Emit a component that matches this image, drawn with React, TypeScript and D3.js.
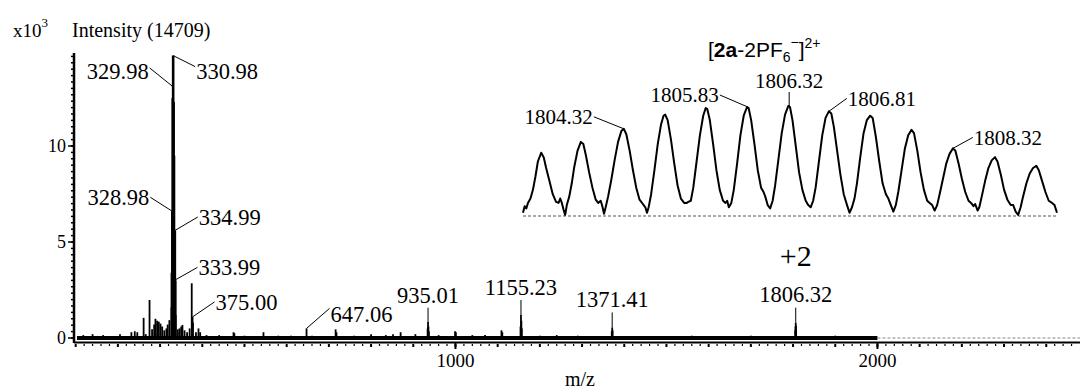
import * as d3 from "d3";

// main spectrum sticks: [m/z, intensity x10^3]
const mainPeaks: [number, number][] = [
  [118, 0.15], [140, 0.2], [165, 0.15], [205, 0.2], [232, 0.3], [240, 0.35], [246, 0.3],
  [261, 1.05], [266, 0.2], [275, 1.98], [281, 0.45], [286, 0.7], [289, 1.0], [293, 0.9],
  [297, 0.85], [301, 0.75], [305, 0.6], [310, 0.4], [315, 0.5], [318, 0.7], [322, 0.93],
  [326.98, 1.6], [327.98, 3.4], [328.98, 6.6], [329.98, 12.5], [330.98, 14.709], [331.98, 12.3],
  [332.98, 9.5], [333.99, 4.5], [334.99, 5.6], [335.99, 3.0], [336.99, 1.2],
  [342, 0.45], [346, 0.5], [350, 0.6], [353, 0.68], [358, 0.4], [364, 0.3], [370, 0.5],
  [375.0, 2.85], [377.0, 1.1], [378.0, 0.8], [385, 0.3], [391, 0.5], [395, 0.3], [410, 0.15],
  [440, 0.15], [474, 0.3], [476, 0.25], [500, 0.12], [545, 0.3], [580, 0.12], [610, 0.12],
  [647.06, 0.5], [660, 0.12], [716, 0.45], [718, 0.3], [760, 0.12], [800, 0.2], [835, 0.15],
  [852, 0.2], [870, 0.3], [905, 0.2], [934.0, 0.5], [935.01, 0.85], [936.0, 0.6], [937.0, 0.35],
  [960, 0.15], [999, 0.35], [1001, 0.3], [1040, 0.15], [1070, 0.15], [1109, 0.4], [1111, 0.3],
  [1154.2, 0.6], [1155.23, 1.2], [1156.2, 0.9], [1157.2, 0.5], [1200, 0.12], [1240, 0.15],
  [1290, 0.12], [1330, 0.1], [1370.4, 0.35], [1371.41, 0.55], [1372.4, 0.4], [1420, 0.1],
  [1500, 0.1], [1560, 0.12], [1640, 0.1], [1700, 0.12], [1760, 0.1], [1805.3, 0.4],
  [1805.8, 0.6], [1806.32, 0.8], [1806.8, 0.65], [1807.3, 0.4], [1850, 0.1], [1900, 0.12],
  [1960, 0.1],
];
const baselineSpan = [103, 2000];

// zoomed isotope envelope: [m/z, relative intensity]
const insetTrace: [number, number][] = [
  [1803.1, 3], [1803.12, 9], [1803.14, 7], [1803.16, 12], [1803.19, 16], [1803.22, 24],
  [1803.25, 36], [1803.28, 50], [1803.32, 58], [1803.35, 54], [1803.38, 44], [1803.42, 32],
  [1803.46, 20], [1803.5, 13], [1803.53, 12], [1803.55, 16], [1803.57, 12], [1803.59, 6],
  [1803.61, 1], [1803.63, 10], [1803.66, 18], [1803.69, 30], [1803.72, 45], [1803.76, 60],
  [1803.8, 68], [1803.83, 66], [1803.86, 56], [1803.9, 40], [1803.94, 26], [1803.98, 15],
  [1804.01, 12], [1804.04, 14], [1804.06, 9], [1804.08, 2], [1804.1, 8], [1804.13, 18],
  [1804.17, 34], [1804.21, 52], [1804.25, 68], [1804.29, 78], [1804.32, 80], [1804.35, 75],
  [1804.39, 60], [1804.43, 42], [1804.47, 26], [1804.51, 15], [1804.55, 11], [1804.58, 8],
  [1804.6, 3], [1804.62, 8], [1804.65, 20], [1804.69, 42], [1804.73, 66], [1804.77, 84],
  [1804.8, 92], [1804.82, 93], [1804.85, 88], [1804.89, 70], [1804.93, 48], [1804.97, 28],
  [1805.01, 16], [1805.05, 12], [1805.08, 12], [1805.1, 13], [1805.13, 14], [1805.16, 26],
  [1805.2, 50], [1805.24, 74], [1805.28, 92], [1805.31, 99], [1805.33, 98], [1805.36, 88],
  [1805.4, 66], [1805.44, 42], [1805.48, 24], [1805.52, 14], [1805.55, 12], [1805.57, 14],
  [1805.59, 8], [1805.62, 12], [1805.65, 24], [1805.69, 48], [1805.73, 74], [1805.77, 92],
  [1805.81, 100], [1805.83, 99], [1805.86, 88], [1805.9, 66], [1805.94, 42], [1805.98, 26],
  [1806.01, 22], [1806.03, 18], [1806.06, 10], [1806.09, 7], [1806.12, 14], [1806.15, 28],
  [1806.19, 52], [1806.23, 76], [1806.27, 93], [1806.31, 101], [1806.33, 100], [1806.36, 88],
  [1806.4, 64], [1806.44, 40], [1806.48, 24], [1806.52, 14], [1806.55, 10], [1806.58, 8],
  [1806.61, 14], [1806.64, 26], [1806.68, 50], [1806.72, 74], [1806.76, 90], [1806.8, 96],
  [1806.83, 94], [1806.86, 82], [1806.9, 60], [1806.94, 38], [1806.98, 20], [1807.02, 10],
  [1807.05, 3], [1807.08, 8], [1807.11, 16], [1807.14, 30], [1807.18, 54], [1807.22, 76],
  [1807.26, 88], [1807.3, 92], [1807.33, 90], [1807.37, 72], [1807.41, 50], [1807.45, 30],
  [1807.49, 20], [1807.52, 16], [1807.55, 10], [1807.58, 4], [1807.61, 10], [1807.64, 22],
  [1807.68, 42], [1807.72, 62], [1807.76, 74], [1807.8, 79], [1807.83, 76], [1807.87, 60],
  [1807.91, 40], [1807.95, 24], [1807.99, 14], [1808.02, 12], [1808.05, 10], [1808.08, 5],
  [1808.11, 10], [1808.14, 20], [1808.18, 34], [1808.22, 48], [1808.26, 57], [1808.3, 62],
  [1808.33, 60], [1808.37, 48], [1808.41, 34], [1808.45, 22], [1808.49, 14], [1808.52, 12],
  [1808.55, 9], [1808.57, 11], [1808.6, 5], [1808.62, 8], [1808.65, 18], [1808.69, 32],
  [1808.73, 44], [1808.77, 51], [1808.81, 54], [1808.84, 50], [1808.88, 38], [1808.92, 24],
  [1808.96, 15], [1809.0, 10], [1809.03, 10], [1809.06, 4], [1809.09, 1], [1809.12, 8],
  [1809.15, 18], [1809.19, 30], [1809.23, 39], [1809.27, 44], [1809.31, 46], [1809.34, 42],
  [1809.38, 32], [1809.42, 22], [1809.46, 14], [1809.5, 12], [1809.53, 10], [1809.56, 3],
];

// annotations: text, anchor m/z, anchor intensity
const mainLabels: [string, number, number][] = [
  ["330.98", 330.98, 14.709], ["329.98", 329.98, 13.1], ["328.98", 328.98, 6.6],
  ["334.99", 334.99, 5.6], ["333.99", 333.99, 3.0], ["375.00", 377.0, 1.1],
  ["647.06", 647.06, 0.5], ["935.01", 935.01, 0.85], ["1155.23", 1155.23, 1.2],
  ["1371.41", 1371.41, 0.55], ["1806.32", 1806.32, 0.8],
];
const insetLabels: [string, number, number][] = [
  ["1804.32", 1804.32, 80], ["1805.83", 1805.82, 100], ["1806.32", 1806.32, 100],
  ["1806.81", 1806.8, 96], ["1808.32", 1808.3, 62],
];
const yTicks = [0, 5, 10];
const xTicks = [1000, 2000];

// leader layout: dx, dy from anchor to leader start, side, baseline offset
const mainLeader: Record<string, [number, number, string, number]> = {
  "330.98": [22, 11, "r", 12], "329.98": [-23, -18.5, "l", 11], "328.98": [-22, -14, "l", 8],
  "334.99": [23, -13.5, "r", 8], "333.99": [23, -13, "r", 8], "375.00": [22, -15, "r", 8],
  "647.06": [23, -20, "r", 14], "935.01": [0, -14, "u", -5], "1155.23": [0, -15, "u", -5],
  "1371.41": [0, -15, "u", -5], "1806.32": [0, -15, "u", -6],
};
const insetLeader: Record<string, [number, number, string, number]> = {
  "1804.32": [-30, -12, "l", 7], "1805.83": [-28, -12, "l", 7], "1806.32": [0, -15, "u", -4],
  "1806.81": [18, -13, "r", 8], "1808.32": [20, -11, "r", 8],
};

const W = 1083;
const H = 392;
const serif = "'Liberation Serif', 'Times New Roman', serif";
const sans = "'Liberation Sans', Arial, sans-serif";

function Leaders({ labels, layout, sx, sy, size }: any) {
  return (
    <g fontFamily={serif} fontSize={size} fill="#000">
      {labels.map(([t, mz, v]: [string, number, number]) => {
        const [dx, dy, side, tb] = layout[t];
        const ax = sx(mz), ay = sy(v);
        const lx = ax + dx, ly = ay + dy;
        const anchor = side === "l" ? "end" : side === "r" ? "start" : "middle";
        const tx = side === "l" ? lx - 1 : side === "r" ? lx + 1 : lx;
        return (
          <g key={t + mz}>
            <line x1={lx} y1={ly} x2={ax} y2={ay} stroke="#000" strokeWidth={1} />
            <text x={tx} y={ly + tb} textAnchor={anchor}>{t}</text>
          </g>
        );
      })}
    </g>
  );
}

export default function App() {
  const x = d3.scaleLinear().domain([96, 2480]).range([74, 1080]);
  const y = d3.scaleLinear().domain([0, 14.709]).range([338, 55.6]);
  const ix = d3.scaleLinear().domain([1803.1, 1809.56]).range([523, 1057]);
  const iy = d3.scaleLinear().domain([0, 100]).range([216, 107]);

  const trace = d3.line<[number, number]>().x((d) => ix(d[0])).y((d) => iy(d[1]))(insetTrace) || "";

  const yMinor = d3.range(0, 14.75, 1 / 3);
  const xMinor = d3.range(100, 2480, 20);

  return (
    <svg width={W} height={H} style={{ position: "absolute", left: 0, top: 0, background: "#fff" }}>
      {/* header */}
      <text x={13} y={37} fontFamily={serif} fontSize={19}>
        x10<tspan dy={-10} fontSize={13}>3</tspan>
      </text>
      <text x={72} y={37} fontFamily={serif} fontSize={20}>Intensity (14709)</text>

      {/* y axis */}
      <line x1={74} x2={74} y1={53} y2={343} stroke="#000" strokeWidth={2.5} />
      {yMinor.map((v) => (
        <line key={v} x1={71} x2={74} y1={y(v)} y2={y(v)} stroke="#000" strokeWidth={1.5} />
      ))}
      {yTicks.map((v) => (
        <g key={v}>
          <line x1={68} x2={74} y1={y(v)} y2={y(v)} stroke="#000" strokeWidth={1.5} />
          <text x={66} y={y(v) + 6} textAnchor="end" fontFamily={serif} fontSize={18}>{v}</text>
        </g>
      ))}

      {/* x axis */}
      <line x1={74} x2={1080} y1={342.5} y2={342.5} stroke="#000" strokeWidth={2} />
      {xMinor.map((v) => (
        <line key={v} x1={x(v)} x2={x(v)} y1={344} y2={v % 100 === 0 ? 347 : 346} stroke="#000"
          strokeWidth={v % 100 === 0 ? 2 : 1.2} />
      ))}
      {xTicks.map((v) => (
        <g key={v}>
          <line x1={x(v)} x2={x(v)} y1={343} y2={349} stroke="#000" strokeWidth={2} />
          <text x={x(v)} y={367} textAnchor="middle" fontFamily={serif} fontSize={19}>{v}</text>
        </g>
      ))}
      <text x={580} y={386} textAnchor="middle" fontFamily={serif} fontSize={20}>m/z</text>

      {/* spectrum */}
      <line x1={x(baselineSpan[0])} x2={x(baselineSpan[1])} y1={y(0)} y2={y(0)} stroke="#000" strokeWidth={4} />
      <line x1={x(baselineSpan[1])} x2={1080} y1={y(0)} y2={y(0)} stroke="#888" strokeWidth={1} strokeDasharray="3,2" />
      {mainPeaks.map(([mz, v]) => (
        <line key={mz} x1={x(mz)} x2={x(mz)} y1={y(0)} y2={y(v)} stroke="#000"
          strokeWidth={v > 2.5 && mz < 340 ? 2.6 : 1.8} />
      ))}
      <Leaders labels={mainLabels} layout={mainLeader} sx={x} sy={y} size={22.5} />
      <text x={x(1806.32)} y={266} textAnchor="middle" fontFamily={serif} fontSize={30}>+2</text>

      {/* inset */}
      <line x1={ix(1803.1)} x2={ix(1809.56)} y1={iy(0)} y2={iy(0)} stroke="#555" strokeWidth={1} strokeDasharray="3,2" />
      <path d={trace} fill="none" stroke="#000" strokeWidth={2} strokeLinejoin="round" />
      <Leaders labels={insetLabels} layout={insetLeader} sx={ix} sy={iy} size={21} />
      <text x={708} y={57} fontFamily={sans} fontSize={21}>
        [<tspan fontWeight="bold">2a</tspan>-2PF<tspan dy={5} fontSize={14}>6</tspan>
        <tspan dy={-15} fontSize={14}>−</tspan><tspan dy={10}>]</tspan>
        <tspan dy={-9} fontSize={14}>2+</tspan>
      </text>
    </svg>
  );
}
